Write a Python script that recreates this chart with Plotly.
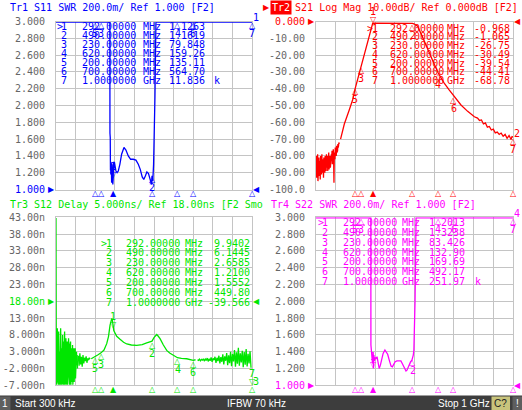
import numpy as np
import plotly.graph_objects as go

W, H = 522, 410

# ---------------- data ----------------
marker_num = ["1", "2", "3", "4", "5", "6", "7"]
marker_freq = [292, 490, 230, 620, 200, 700, 1000]          # MHz
marker_freq_txt = ["292.00000", "490.00000", "230.00000", "620.00000",
                   "200.00000", "700.00000", "1.0000000"]
marker_unit = ["MHz", "MHz", "MHz", "MHz", "MHz", "MHz", "GHz"]

s11_mk_val = [1.1263, 1.1619, 79.848, 159.26, 135.11, 564.70, 11836]
s11_mk_txt = ["1.1263", "1.1619", "79.848", "159.26", "135.11", "564.70", "11.836"]
s11_mk_sfx = ["", "", "", "", "", "", "k"]

s21_mk_val = [-0.9688, -1.065, -26.75, -30.49, -39.54, -44.41, -68.78]
s21_mk_txt = ["-0.968", "-1.065", "-26.75", "-30.49", "-39.54", "-44.41", "-68.78"]

s12_mk_val = [9.9402, 6.1445, 2.6585, 1.2100, 1.5552, 0.4498, -39.566]
s12_mk_txt = ["9.9402", "6.1445", "2.6585", "1.2100", "1.5552", "449.80", "-39.566"]

s22_mk_val = [1.2013, 1.3238, 83.426, 132.90, 169.69, 492.17, 251970]
s22_mk_txt = ["1.2013", "1.3238", "83.426", "132.90", "169.69", "492.17", "251.97"]
s22_mk_sfx = ["", "", "", "", "", "", "k"]

# S11 SWR trace
s11_f = [0.3, 100, 200, 230, 255, 272, 275, 275.5, 277, 278, 279, 280, 282, 284, 286, 288,
         290, 292, 294, 296, 298, 301, 306, 312, 318, 326, 335, 347, 357, 369, 381, 394,
         408, 420, 430, 440, 448, 456, 464, 472, 478, 484, 488, 490, 494, 498, 502, 505,
         510, 530, 620, 700, 850, 1000]
s11_v = [2500, 950, 135.11, 79.848, 30, 6.0, 3.5, 1.67, 1.62, 1.23, 1.33, 1.18, 1.32, 1.08,
         1.30, 1.20, 1.06, 1.1263, 1.33, 1.25, 1.33, 1.28, 1.22, 1.20, 1.22, 1.30, 1.42,
         1.50, 1.47, 1.40, 1.36, 1.36, 1.35, 1.30, 1.24, 1.15, 1.12, 1.16, 1.21, 1.19, 1.14,
         1.09, 1.06, 1.1619, 1.10, 1.30, 1.6, 2.1, 3.5, 12, 159.26, 564.70, 2000, 11836]

# S22 SWR trace
s22_f = [0.3, 100, 200, 230, 255, 274, 278.5, 279, 281, 283, 285, 287, 289, 291, 292, 294,
         297, 300, 305, 310, 316, 321, 327, 333, 341, 350, 357, 364, 372, 381, 388, 394,
         402, 411, 420, 431, 438, 445, 451, 457, 462, 468, 474, 480, 487, 490, 494, 497,
         499, 503, 508, 530, 620, 700, 850, 1000]
s22_v = [3000, 900, 169.69, 83.426, 25, 5, 3.2, 1.48, 1.40, 1.38, 1.30, 1.26, 1.38, 1.30,
         1.2013, 1.36, 1.29, 1.33, 1.32, 1.34, 1.25, 1.20, 1.24, 1.32, 1.38, 1.42, 1.40,
         1.37, 1.30, 1.23, 1.22, 1.25, 1.28, 1.29, 1.29, 1.29, 1.26, 1.23, 1.19, 1.17, 1.18,
         1.22, 1.25, 1.28, 1.30, 1.3238, 1.36, 1.42, 1.62, 2.01, 3.5, 15, 132.90, 492.17,
         5000, 251970]

# S21 Log Mag trace: noisy floor (linear sweep 0.3..118 MHz) then smooth filter response
s21_noise_f = np.linspace(0.3, 118, 72)
s21_noise_v = [-86, -80, -93, -82, -90, -79, -95, -84, -89, -81, -92, -86, -83, -94, -80, -88,
               -85, -91, -79, -90, -84, -87, -82, -93, -81, -88, -83, -90, -80, -86, -82, -89,
               -79, -87, -83, -80, -89, -82, -86, -78, -88, -83, -85, -80, -87, -82, -84, -79,
               -82, -77, -85, -79, -81, -76, -83, -96, -80, -78, -82, -75, -79, -77, -80, -74,
               -78, -76, -77, -73, -75, -74, -72, -73]
s21_f = [125, 144, 169, 186, 200, 215, 230, 245, 260, 272, 280, 285, 288, 292, 330, 380, 440,
         480, 490, 500, 516, 540, 567, 595, 620, 650, 675, 700, 736, 770, 804, 820, 830, 840,
         850, 860, 870, 880, 890, 900, 910, 920, 930, 940, 950, 960, 970, 980, 990, 995, 1000]
s21_v = [-70, -61, -52.7, -46.7, -39.54, -33, -26.75, -20, -13.5, -8, -4, -1.8, -1.1, -0.9688,
         -0.95, -0.9, -0.95, -1.0, -1.065, -1.5, -2.8, -9, -16.8, -24, -30.49, -36.5, -40.5,
         -44.41, -49.7, -53.5, -56.7, -57.5, -58.9, -58.6, -61, -60.4, -62.9, -62.5, -64.6,
         -64.1, -66.3, -65.8, -67.2, -66.4, -68.3, -67.2, -69.5, -67.9, -70.2, -68.5, -68.78]

# S12 group delay trace (ns)
gd_noise_f = np.linspace(0.3, 110, 66)
gd_noise_v = [60, -9, 8, -6, 10, -8, 5, -10, 9, -4, 7, -9, 3, -8, 10, -6, 6, -10, 4, -7, 8, -5,
              2, -9, 6, -8, 9, -3, 5, -10, 7, -6, 3, -8, 6, -9, 4, -4, 7, -7, 2, -8, 5, -5, 6,
              -9, 3, -6, 4, -3, 5, -8, 2, -4, 4, -6, 3, -2, 4, -5, 2, -3, 3, -1, 2, -2]
gd_mid_f = [114, 118, 122, 126, 130, 134, 138, 142, 146, 150, 154, 158, 162, 166, 170, 174]
gd_mid_v = [1.8, -1.2, 2.5, -0.8, 1.5, -1.5, 2.0, -0.5, 1.2, 0.2, 1.6, -0.3, 1.0, 0.5, 1.2, 0.8]
gd_f = [180, 190, 200, 215, 230, 245, 259, 268, 276, 282, 285, 288, 292, 295, 301, 310, 327,
        345, 361, 385, 412, 440, 463, 475, 490, 500, 508, 514, 522, 531, 548, 565, 580, 599,
        620, 640, 667, 700, 712]
gd_v = [0.9, 1.2, 1.5552, 2.1, 2.6585, 3.5, 5.4, 7.5, 10.9, 12.6, 12.9, 12.3, 9.9402, 9.3,
        8.6, 7.6, 6.7, 5.8, 5.3, 5.0, 4.9, 5.1, 5.6, 5.9, 6.1445, 7.2, 7.9, 8.1, 7.6, 6.9, 5.0,
        3.4, 2.6, 1.9, 1.21, 1.0, 0.9, 0.4498, 0.6]
gd_tail_f = np.linspace(722, 995, 56)
gd_tail_v = [0.6, 0.4, 0.8, 0.3, 0.7, 0.5, 0.9, 0.2, 0.8, 0.4, 1.1, 0.1, 0.9, 0.3, 1.3, 0.0,
             1.0, 0.5, 1.5, -0.3, 1.2, 0.2, 1.8, -0.5, 1.4, 0.0, 2.2, -0.8, 1.6, 0.3, 2.6, -1.0,
             1.9, -0.4, 3.0, -1.3, 2.3, 0.1, 3.5, -1.5, 2.8, -0.6, 4.2, -1.2, 2.5, -0.2, 3.3,
             -1.6, 2.9, -0.9, 3.8, -1.4, 2.4, -0.5, 3.1, -1.8]
gd_end_f = [1000]
gd_end_v = [-39.566]

# y tick labels
swr_ticks = [1.0, 1.2, 1.4, 1.6, 1.8, 2.0, 2.2, 2.4, 2.6, 2.8, 3.0]
swr_ticktext = ["1.000", "1.200", "1.400", "1.600", "1.800", "2.000", "2.200", "2.400",
                "2.600", "2.800", "3.000"]
lm_ticks = [-100, -90, -80, -70, -60, -50, -40, -30, -20, -10, 0]
lm_ticktext = ["-100.0", "-90.00", "-80.00", "-70.00", "-60.00", "-50.00", "-40.00",
               "-30.00", "-20.00", "-10.00", "0.000"]
gd_ticks = [-7, -2, 3, 8, 13, 18, 23, 28, 33, 38, 43]
gd_ticktext = ["-7.000n", "-2.000n", "3.000n", "8.000n", "13.00n", "18.00n", "23.00n",
               "28.00n", "33.00n", "38.00n", "43.00n"]

titles = ["Tr1 S11 SWR 200.0m/ Ref 1.000 [F2]",
          "Tr2 S21 Log Mag 10.00dB/ Ref 0.000dB [F2]",
          "Tr3 S12 Delay 5.000ns/ Ref 18.00ns [F2 Smo",
          "Tr4 S22 SWR 200.0m/ Ref 1.000 [F2]"]

# ---------------- styling ----------------
BLUE, RED, GREEN, MAG = "#0000ff", "#ff0000", "#00e600", "#ff00ff"
GRID = "#c4c4c4"
TICKC = "#666666"
MONO = "DejaVu Sans Mono"
SYM = "DejaVu Sans"


def pxx(p):
    return p / W


def pxy(p):
    return 1 - p / H


panels = [
    dict(x0=56, x1=252, yt=21.5, yb=189.5, rng=[1, 3], ticks=swr_ticks, tt=swr_ticktext,
         ref=1.0, color=BLUE,
         traces=[(s11_f, s11_v)], mk=s11_mk_val, mtxt=s11_mk_txt, msfx=s11_mk_sfx,
         tx=9.3, ty=7,
         tab=dict(gt=56, num_r=67.5, freq_l=81, unit_l=141.5, val_r=205.5, sfx_l=213,
                  y0=26, dy=9.05, val_left=False)),
    dict(x0=316, x1=513, yt=21.5, yb=189.5, rng=[-100, 0], ticks=lm_ticks, tt=lm_ticktext,
         ref=0.0, color=RED,
         traces=[(s21_noise_f, s21_noise_v), (s21_f, s21_v)], mk=s21_mk_val,
         mtxt=s21_mk_txt, msfx=[""] * 7, tx=270.3, ty=7,
         tab=dict(gt=366, num_r=378.5, freq_l=389.3, unit_l=446, val_r=472.7, sfx_l=None,
                  y0=28, dy=8.75, val_left=True)),
    dict(x0=56, x1=252, yt=217.3, yb=385.3, rng=[-7, 43], ticks=gd_ticks, tt=gd_ticktext,
         ref=18.0, color=GREEN,
         traces=[(gd_noise_f, gd_noise_v), (gd_mid_f, gd_mid_v), (gd_f, gd_v),
                 (gd_tail_f, gd_tail_v), (gd_end_f, gd_end_v)],
         mk=s12_mk_val, mtxt=s12_mk_txt, msfx=[""] * 7, tx=9.3, ty=204,
         tab=dict(gt=99.5, num_r=112.5, freq_l=125, unit_l=184.3, val_r=250.5, sfx_l=None,
                  y0=243, dy=9.9, val_left=False)),
    dict(x0=316, x1=513, yt=217.3, yb=385.3, rng=[1, 3], ticks=swr_ticks, tt=swr_ticktext,
         ref=1.0, color=MAG,
         traces=[(s22_f, s22_v)], mk=s22_mk_val, mtxt=s22_mk_txt, msfx=s22_mk_sfx,
         tx=270.3, ty=204,
         tab=dict(gt=316.5, num_r=328.5, freq_l=342, unit_l=401, val_r=466, sfx_l=474,
                  y0=222.7, dy=9.8, val_left=False)),
]

fig = go.Figure()
ann = []
shapes = []

for i, p in enumerate(panels, start=1):
    xs = "" if i == 1 else str(i)
    xk, yk = "xaxis" + xs, "yaxis" + xs
    xr, yr = "x" + xs, "y" + xs
    lo, hi = p["rng"]
    span = hi - lo
    eps = 0.004 * span
    c = p["color"]

    # colour the reference tick label in the trace colour
    tt = []
    for v, t in zip(p["ticks"], p["tt"]):
        if abs(v - p["ref"]) < 1e-9:
            tt.append('<span style="color:%s">%s</span>' % (c, t))
        else:
            tt.append(t)

    fig.layout[xk] = dict(domain=[pxx(p["x0"]), pxx(p["x1"])], range=[0.3, 1000],
                          tick0=0.3, dtick=99.97, showgrid=True, gridcolor=GRID,
                          gridwidth=1, showticklabels=False, zeroline=False, showline=True,
                          linecolor=GRID, linewidth=1, mirror=True, ticks="",
                          anchor=yr, fixedrange=True, automargin=False)
    fig.layout[yk] = dict(domain=[pxy(p["yb"]), pxy(p["yt"])], range=[lo, hi],
                          tickmode="array", tickvals=p["ticks"], ticktext=tt,
                          tickfont=dict(family=MONO, size=10, color=TICKC),
                          showgrid=True, gridcolor=GRID, gridwidth=1, zeroline=False,
                          showline=True, linecolor=GRID, linewidth=1, mirror=True,
                          ticks="", ticklabelstandoff=8, anchor=xr, fixedrange=True,
                          automargin=False)

    for f, v in p["traces"]:
        yv = np.clip(np.asarray(v, dtype=float), lo + eps, hi - eps)
        fig.add_trace(go.Scatter(x=np.asarray(f, dtype=float), y=yv, mode="lines",
                                 line=dict(color=c, width=1.3), xaxis=xr, yaxis=yr,
                                 hoverinfo="skip", showlegend=False))

    # markers on trace
    for k, (mf, mv) in enumerate(zip(marker_freq, p["mk"])):
        yv = float(np.clip(mv, lo, hi))
        if mv > hi:
            mode = "below"
        elif mv < lo:
            mode = "above"
        else:
            mode = "above" if k == 0 else "below"
        if mode == "above":
            ann.append(dict(x=mf, y=yv, xref=xr, yref=yr, text="\u25bd", showarrow=False,
                            font=dict(family=SYM, size=8, color=c), yanchor="middle",
                            yshift=4, borderpad=0))
            ann.append(dict(x=mf, y=yv, xref=xr, yref=yr, text=marker_num[k],
                            showarrow=False, font=dict(family=MONO, size=10, color=c),
                            yanchor="middle", yshift=12, borderpad=0))
        else:
            ann.append(dict(x=mf, y=yv, xref=xr, yref=yr, text="\u25b3", showarrow=False,
                            font=dict(family=SYM, size=8, color=c), yanchor="middle",
                            yshift=-4, borderpad=0))
            ann.append(dict(x=mf, y=yv, xref=xr, yref=yr, text=marker_num[k],
                            showarrow=False, font=dict(family=MONO, size=10, color=c),
                            yanchor="middle", yshift=-12, borderpad=0))
        # stimulus indicators under the grid
        ann.append(dict(x=mf, y=0, xref=xr, yref=yr + " domain",
                        text="\u25b2" if k == 0 else "\u25b3", showarrow=False,
                        font=dict(family=SYM, size=8, color=c), yanchor="middle",
                        yshift=-4, borderpad=0))

    # trace number at end of trace
    endv = float(np.clip(p["traces"][-1][1][-1], lo, hi))
    ann.append(dict(x=1000, y=endv, xref=xr, yref=yr, text=str(i), showarrow=False,
                    font=dict(family=MONO, size=10, color=c), xanchor="left", xshift=0,
                    yanchor="middle", yshift=4, borderpad=0))

    # reference level arrows
    ann.append(dict(x=0, y=p["ref"], xref=xr + " domain", yref=yr, text="\u25b6",
                    showarrow=False, font=dict(family=SYM, size=8, color=c),
                    xanchor="right", yanchor="middle", borderpad=0))
    ann.append(dict(x=1, y=p["ref"], xref=xr + " domain", yref=yr, text="\u25c0",
                    showarrow=False, font=dict(family=SYM, size=8, color=c),
                    xanchor="left", yanchor="middle", borderpad=0))

    # title
    ann.append(dict(x=pxx(p["tx"]), y=pxy(p["ty"]), xref="paper", yref="paper",
                    text=titles[i - 1], showarrow=False,
                    font=dict(family=MONO, size=10, color=c), xanchor="left",
                    yanchor="middle", borderpad=0))

    # marker table
    t = p["tab"]
    for k in range(7):
        yy = pxy(t["y0"] + k * t["dy"])
        tf = dict(family=MONO, size=10, color=c)
        if k == 0:
            ann.append(dict(x=pxx(t["gt"]), y=yy, xref="paper", yref="paper", text=">",
                            showarrow=False, font=tf, xanchor="left", yanchor="middle",
                            borderpad=0))
        ann.append(dict(x=pxx(t["num_r"]), y=yy, xref="paper", yref="paper",
                        text=marker_num[k], showarrow=False, font=tf, xanchor="right",
                        yanchor="middle", borderpad=0))
        ann.append(dict(x=pxx(t["freq_l"]), y=yy, xref="paper", yref="paper",
                        text=marker_freq_txt[k], showarrow=False, font=tf, xanchor="left",
                        yanchor="middle", borderpad=0))
        ann.append(dict(x=pxx(t["unit_l"]), y=yy, xref="paper", yref="paper",
                        text=marker_unit[k], showarrow=False, font=tf, xanchor="left",
                        yanchor="middle", borderpad=0))
        ann.append(dict(x=pxx(t["val_r"]), y=yy, xref="paper", yref="paper",
                        text=p["mtxt"][k], showarrow=False, font=tf,
                        xanchor="left" if t["val_left"] else "right", yanchor="middle",
                        borderpad=0))
        if t["sfx_l"] and p["msfx"][k]:
            ann.append(dict(x=pxx(t["sfx_l"]), y=yy, xref="paper", yref="paper",
                            text=p["msfx"][k], showarrow=False, font=tf, xanchor="left",
                            yanchor="middle", borderpad=0))

# active trace indicator (Tr2)
ann.append(dict(x=pxx(261.5), y=pxy(7), xref="paper", yref="paper", text="\u25b6",
                showarrow=False, font=dict(family=SYM, size=8, color=RED), xanchor="left",
                yanchor="middle", borderpad=0))
ann.append(dict(x=pxx(270.3), y=pxy(7), xref="paper", yref="paper", text="Tr2",
                showarrow=False, font=dict(family=MONO, size=10, color="#ffffff"),
                bgcolor=RED, xanchor="left", yanchor="middle", borderpad=1))

# status bar
shapes.append(dict(type="rect", xref="paper", yref="paper", x0=0, x1=1, y0=0,
                   y1=pxy(395.5), fillcolor="#3d3d3d", line=dict(width=0), layer="above"))
shapes.append(dict(type="rect", xref="paper", yref="paper", x0=0, x1=pxx(10.5), y0=0,
                   y1=pxy(396.5), fillcolor="#5e5e5e", line=dict(width=0), layer="above"))
shapes.append(dict(type="rect", xref="paper", yref="paper", x0=pxx(491.5), x1=pxx(510),
                   y0=0, y1=pxy(396.5), fillcolor="#c8c47c", line=dict(width=0),
                   layer="above"))
shapes.append(dict(type="rect", xref="paper", yref="paper", x0=pxx(512.5), x1=pxx(522),
                   y0=0, y1=pxy(396.5), fillcolor="#5e5e5e", line=dict(width=0),
                   layer="above"))
SANS = "Liberation Sans"
status = [("1", 5.2, "center", "#ffffff"), ("Start 300 kHz", 14, "left", "#ffffff"),
          ("IFBW 70 kHz", 226, "left", "#ffffff"), ("Stop 1 GHz", 437, "left", "#ffffff"),
          ("C?", 500.7, "center", "#202020"), ("!", 517.2, "center", "#ffffff")]
for txt, xx, anc, col in status:
    ann.append(dict(x=pxx(xx), y=pxy(403), xref="paper", yref="paper", text=txt,
                    showarrow=False, font=dict(family=SANS, size=10, color=col),
                    xanchor=anc, yanchor="middle", borderpad=0))

fig.update_layout(width=W, height=H, margin=dict(l=0, r=0, t=0, b=0, pad=0),
                  autosize=False, paper_bgcolor="#ffffff", plot_bgcolor="#ffffff",
                  showlegend=False, annotations=ann, shapes=shapes)

fig.write_html("out.html", config={"displayModeBar": False, "staticPlot": True},
               post_script="document.body.style.margin='0px';"
                           "document.body.style.overflow='hidden';")
